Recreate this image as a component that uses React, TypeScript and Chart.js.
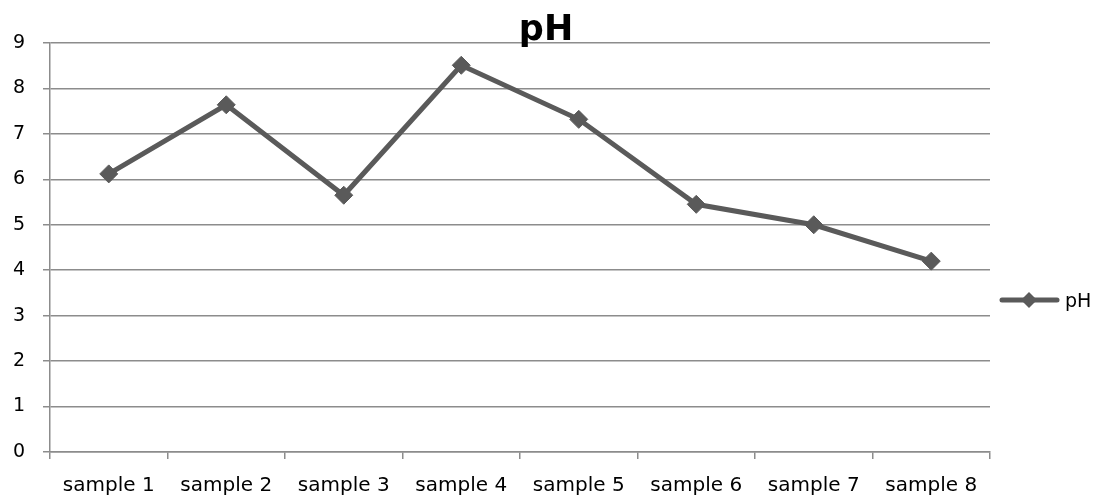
import React, { useEffect, useRef } from "react";
import { Chart, registerables } from "chart.js";

Chart.register(...registerables);

const categories = ["sample 1", "sample 2", "sample 3", "sample 4", "sample 5", "sample 6", "sample 7", "sample 8"];
const phValues = [6.12, 7.64, 5.65, 8.51, 7.32, 5.45, 5.0, 4.2];
const seriesName = "pH";
const chartTitle = "pH";

const LINE = "#5a5a5a";
const GRID = "#8c8c8c";
const FONT = "'DejaVu Sans', Verdana, sans-serif";

const titleLegendPlugin = {
  id: "titleLegend",
  afterDraw(chart: any) {
    const ctx = chart.ctx;
    ctx.save();
    // title
    ctx.fillStyle = "#000";
    ctx.font = `bold 35px ${FONT}`;
    ctx.textAlign = "center";
    ctx.textBaseline = "alphabetic";
    ctx.fillText(chartTitle, 546, 40);
    // legend
    const y = 300;
    ctx.strokeStyle = LINE;
    ctx.lineWidth = 5;
    ctx.lineCap = "round";
    ctx.beginPath();
    ctx.moveTo(1002, y);
    ctx.lineTo(1057, y);
    ctx.stroke();
    ctx.fillStyle = LINE;
    ctx.beginPath();
    const r = 8;
    ctx.moveTo(1029, y - r);
    ctx.lineTo(1029 + r, y);
    ctx.lineTo(1029, y + r);
    ctx.lineTo(1029 - r, y);
    ctx.closePath();
    ctx.fill();
    ctx.fillStyle = "#000";
    ctx.font = `19px ${FONT}`;
    ctx.textAlign = "left";
    ctx.fillText(seriesName, 1065, 307);
    ctx.restore();
  },
};

export default function App() {
  const ref = useRef<HTMLCanvasElement>(null);
  useEffect(() => {
    document.body.style.margin = "0";
    const chart = new Chart(ref.current!, {
      type: "line",
      data: {
        labels: categories,
        datasets: [
          {
            label: seriesName,
            data: phValues,
            borderColor: LINE,
            backgroundColor: LINE,
            borderWidth: 5,
            pointStyle: "rectRot",
            pointRadius: 9,
            pointBorderWidth: 1,
            pointBackgroundColor: LINE,
            pointBorderColor: LINE,
            tension: 0,
          },
        ],
      },
      options: {
        animation: false,
        responsive: false,
        maintainAspectRatio: false,
        layout: { padding: { top: 43, right: 107, left: 0, bottom: 0 } },
        plugins: {
          legend: { display: false },
          title: { display: false },
          tooltip: { enabled: false },
        },
        scales: {
          x: {
            offset: true,
            grid: {
              offset: true,
              drawOnChartArea: false,
              drawTicks: true,
              tickLength: 7,
              color: GRID,
              lineWidth: 1.5,
            },
            border: { color: GRID, width: 1.5 },
            ticks: {
              color: "#000",
              font: { family: FONT, size: 20 },
              padding: 15,
              maxRotation: 0,
              autoSkip: false,
            },
            afterFit(scale: any) {
              scale.height = 45;
            },
          },
          y: {
            min: 0,
            max: 9,
            ticks: {
              stepSize: 1,
              color: "#000",
              font: { family: FONT, size: 19 },
              padding: 18,
            },
            grid: { color: GRID, tickLength: 7, lineWidth: 1.5 },
            border: { color: GRID, width: 1.5 },
            afterFit(scale: any) {
              scale.width = 50;
            },
          },
        },
      },
      plugins: [titleLegendPlugin],
    });
    return () => chart.destroy();
  }, []);
  return (
    <div style={{ width: 1097, height: 497 }}>
      <canvas ref={ref} width={1097} height={497} style={{ display: "block" }} />
    </div>
  );
}
